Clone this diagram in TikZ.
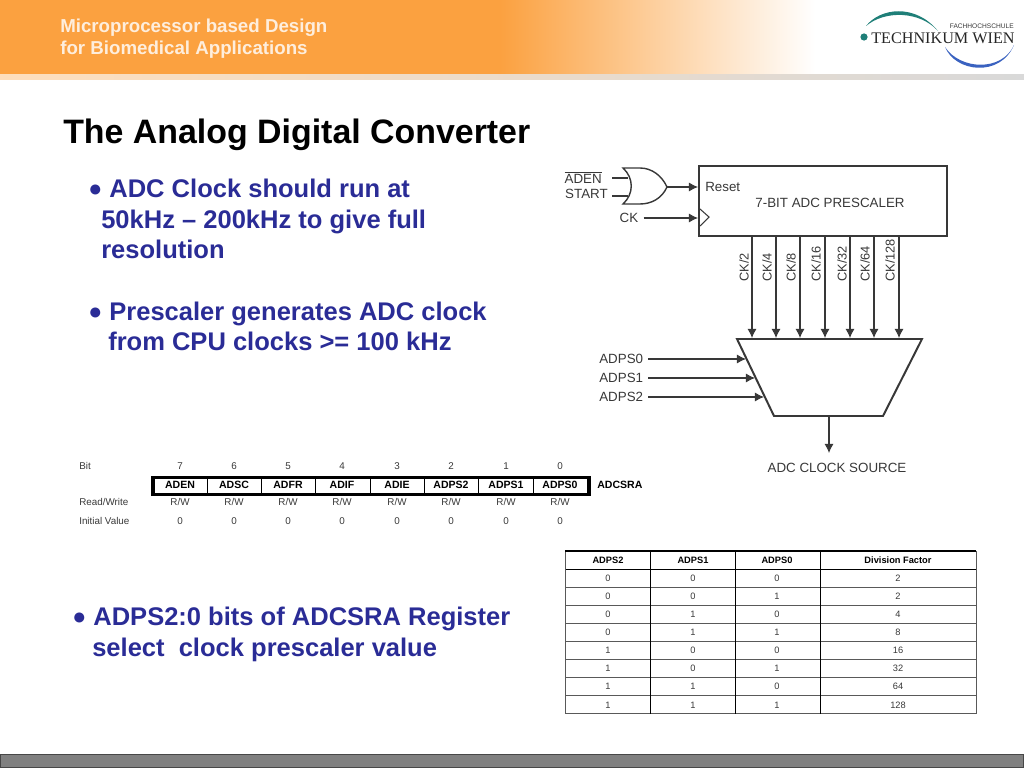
\documentclass[tikz,border=0pt]{standalone}
\usepackage{fontspec}
\usepackage{tikz}
\setmainfont{Liberation Sans}
\newfontfamily\logofont{Liberation Serif}
\usetikzlibrary{positioning, arrows.meta}

\definecolor{headorange}{HTML}{FBA140}
\definecolor{bodyblue}{HTML}{2A2C96}
\definecolor{diagram}{HTML}{383838}
\definecolor{logoteal}{HTML}{1F7F78}
\definecolor{logoblue}{HTML}{3A62C0}

\newcommand{\dotmark}{\raisebox{.6pt}{\fontsize{16.5}{16}\selectfont ●}}

\tikzset{
    lbl/.style={inner sep=0pt, text=diagram, font=\fontsize{9.5}{11}\selectfont},
    cklbl/.style={inner sep=0pt, text=diagram, rotate=90, anchor=west, font=\fontsize{9.1}{11}\selectfont},
    bodytxt/.style={inner sep=0pt, anchor=base west, text=bodyblue, font=\fontsize{18.15}{20}\selectfont\bfseries},
    heading/.style={inner sep=0pt, anchor=base west, text=black, font=\fontsize{24.1}{28}\selectfont\bfseries},
    headtxt/.style={inner sep=0pt, anchor=base west, text=headorange!18!white, font=\fontsize{13.3}{15}\selectfont\bfseries},
    reg/.style={inner sep=0pt, text=diagram, font=\fontsize{6.6}{8}\selectfont},
    regn/.style={inner sep=0pt, text=diagram, font=\fontsize{7}{8}\selectfont},
    regb/.style={inner sep=0pt, text=black, font=\fontsize{7.5}{8}\selectfont\bfseries},
    tabh/.style={inner sep=0pt, text=black, font=\fontsize{6.6}{8}\selectfont\bfseries},
    wire/.style={draw=diagram, line width=.75pt},
    arr/.style={wire, -{Latex[length=6.5pt, width=6.5pt]}},
    heavy/.style={draw=diagram, line width=1.4pt},
    grid/.style={draw=black, line width=.55pt},
    hgrid/.style={draw=black!65, line width=.7pt}
}

\begin{document}
\begin{tikzpicture}[x=0.025cm, y=-0.025cm]
    \useasboundingbox (0,0) rectangle (1024,768);

    % header band
    \fill[headorange] (0,0) rectangle (500,75);
    \shade[left color=headorange, right color=white] (500,0) rectangle (815,75);
    \shade[left color=headorange!35!white, right color=black!15] (0,75) rectangle (1024,80);
    \node[headtxt] (head1) at (60,33) {Microprocessor based Design};
    \node[headtxt] (head2) at (60,55) {for Biomedical Applications};

    % logo
    \fill[logoteal] (866,26) .. controls (880,8) and (915,3) .. (938,31)
        .. controls (920,11) and (885,10) .. cycle;
    \fill[logoblue] (945,47) .. controls (955,72) and (1000,78) .. (1014,45)
        .. controls (1002,72) and (960,70) .. cycle;
    \fill[logoteal] (864,37) circle (3.6);
    \node[inner sep=0pt, anchor=base west, text=black!85, font=\logofont\fontsize{11.5}{14}\selectfont] (logo) at (871,44) {TECHNIKUM WIEN};
    \node[inner sep=0pt, anchor=base east, text=diagram, font=\fontsize{4.7}{5}\selectfont] (logosmall) at (1014,29) {FACHHOCHSCHULE};

    % texts
    \node[heading] (title) at (63,143.5) {The Analog Digital Converter};
    \node[bodytxt] (t1) at (88,197) {\dotmark{} ADC Clock should run at};
    \node[bodytxt] (t2) at (101,228) {50kHz – 200kHz to give full};
    \node[bodytxt] (t3) at (101,258) {resolution};
    \node[bodytxt] (t4) at (88,320) {\dotmark{} Prescaler generates ADC clock};
    \node[bodytxt] (t5) at (108,350) {from CPU clocks >= 100 kHz};
    \node[bodytxt] (t6) at (72,625) {\dotmark{} ADPS2:0 bits of ADCSRA Register};
    \node[bodytxt] (t7) at (92,656) {select\ \ clock prescaler value};

    % prescaler
    \node[heavy, minimum width=248*0.025cm, minimum height=70*0.025cm, inner sep=0pt] (presc) at (823,201) {};
    \node[lbl] (presctxt) at (830,203) {7-BIT ADC PRESCALER};
    \node[lbl, anchor=west] (reset) at (705,187) {Reset};
    \node[lbl, anchor=east] (aden) at (602,177) {$\overline{\mbox{ADEN}}$};
    \node[lbl, anchor=east] (start) at (608,194) {START};
    \node[lbl] (ck) at (629,218) {CK};
    \draw[wire] (700,209) -- (709,217) -- (700,226);

    % or gate
    \coordinate (gatea) at (628,178);
    \coordinate (gateb) at (628,196);
    \coordinate (gateout) at (667,187);
    \draw[heavy, line width=1pt] (623,168) -- (640,168) .. controls (652,168) and (662,176) .. (gateout)
        .. controls (662,198) and (652,204) .. (640,204) -- (623,204)
        .. controls (634,194) and (634,178) .. cycle;
    \draw[wire, line width=1pt] (612,178) coordinate (adenin) -- (gatea)
        (612,196) coordinate (startin) -- (gateb);
    \draw[arr] (gateout) -- (reset.west -| presc.west);
    \draw[arr] (ck.east) ++(5,0) -- (ck.east -| presc.west);

    % mux
    \coordinate (muxa) at (737,339);
    \coordinate (muxb) at (922,339);
    \coordinate (muxc) at (883,416);
    \coordinate (muxd) at (774,416);
    \draw[heavy] (muxa) -- (muxb) -- (muxc) -- (muxd) -- cycle;

    \foreach \x/\lx/\n in {752/744/2, 776/767/4, 800/791/8, 825/816/16, 850/842/32, 874/865/64, 899/890/128} {
        \node[cklbl] (lck\n) at (\lx,282) {CK/\n};
        \coordinate (ckout\n) at (\x,236);
        \coordinate (ckin\n) at (\x,338);
        \draw[arr] (ckout\n) -- (ckin\n);
    }
    \foreach \n/\y/\x in {0/359/746, 1/378/755, 2/397/764} {
        \node[lbl, anchor=west] (adps\n) at (599,\y) {ADPS\n};
        \coordinate (adpsin\n) at (\x,\y);
        \draw[arr] (adps\n.east) ++(5,0) -- (adpsin\n);
    }
    \coordinate (muxout) at (829,416);
    \node[lbl] (clksrc) at (837,468) {ADC CLOCK SOURCE};
    \draw[arr] (muxout) -- (829,453) coordinate (muxtip);

    % register
    \node[regn, anchor=west] (rbit) at (79,466) {Bit};
    \node[regn, anchor=west] (rrw) at (79,502) {Read/Write};
    \node[regn, anchor=west] (rinit) at (79,521) {Initial Value};
    \node[regb, anchor=west] (rname) at (597,485) {ADCSRA};
    \foreach \x/\b/\name in {180/7/ADEN, 234/6/ADSC, 288/5/ADFR, 342/4/ADIF, 397/3/ADIE, 451/2/ADPS2, 506/1/ADPS1, 560/0/ADPS0} {
        \node[regn] (bit\b) at (\x,466) {\b};
        \node[regb] (name\b) at (\x,485) {\name};
        \node[regn] (rw\b) at (\x,502) {R/W};
        \node[regn] (init\b) at (\x,521) {0};
    }
    \foreach \x in {207,261,315,370,424,478,533}
        \draw[grid] (\x,477) -- (\x,494);
    \draw[black, line width=2.2pt] (153,477.5) rectangle (589,494.5);

    % division table
    \foreach \x/\n in {608/2, 693/1, 777/0}
        \node[tabh] (thead\n) at (\x,560) {ADPS\n};
    \node[tabh] (theadf) at (898,560) {Division Factor};
    \foreach \a/\b/\c/\f [count=\r] in {0/0/0/2, 0/0/1/2, 0/1/0/4, 0/1/1/8, 1/0/0/16, 1/0/1/32, 1/1/0/64, 1/1/1/128} {
        \node[reg] (ca\r) at (608,560+18.1*\r) {\a};
        \node[reg] (cb\r) at (693,560+18.1*\r) {\b};
        \node[reg] (cc\r) at (777,560+18.1*\r) {\c};
        \node[reg] (cf\r) at (898,560+18.1*\r) {\f};
        \draw[hgrid] (565,569+18.1*\r) -- (976,569+18.1*\r);
    }
    \draw[grid] (565,569) -- (976,569);
    \foreach \x in {650,735,820}
        \draw[grid] (\x,551) -- (\x,714);
    \foreach \x in {565,976}
        \draw[hgrid] (\x,551) -- (\x,714);
    \draw[black, line width=2pt] (565,551) -- (976,551);

    % footer
    \fill[black!50, draw=black!72, line width=.8pt] (0,754.5) rectangle (1024,768);
\end{tikzpicture}
\end{document}
